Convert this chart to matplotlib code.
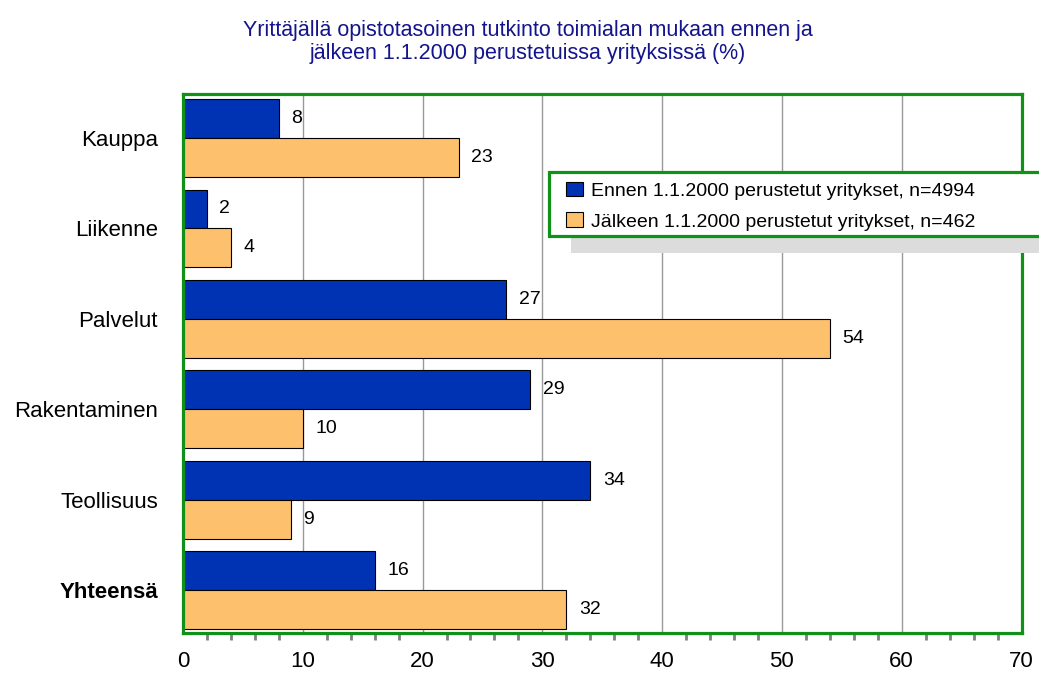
import numpy as np
import matplotlib.pyplot as plt
from matplotlib.patches import Rectangle
from matplotlib.ticker import MultipleLocator

plt.rcParams['font.family'] = ['Liberation Sans', 'DejaVu Sans']

# Data
categories = ['Kauppa', 'Liikenne', 'Palvelut', 'Rakentaminen', 'Teollisuus', 'Yhteensä']
ennen = [8, 2, 27, 29, 34, 16]
jalkeen = [23, 4, 54, 10, 9, 32]
labels = ['Ennen 1.1.2000 perustetut yritykset, n=4994',
          'Jälkeen 1.1.2000 perustetut yritykset, n=462']
title = ('Yrittäjällä opistotasoinen tutkinto toimialan mukaan ennen ja\n'
         'jälkeen 1.1.2000 perustetuissa yrityksissä (%)')

blue = '#0033b3'
orange = '#fdc06d'
green = '#11901a'

W, H = 1039, 673
fig = plt.figure(figsize=(W / 100, H / 100), dpi=100)
ax = fig.add_axes([183 / W, 1 - 633 / H, (1021.5 - 183) / W, (633 - 94) / H])

y = np.arange(len(categories))
h = 0.43
b1 = ax.barh(y - h / 2, ennen, height=h, color=blue, edgecolor='black', linewidth=0.8,
             label=labels[0], zorder=3)
b2 = ax.barh(y + h / 2, jalkeen, height=h, color=orange, edgecolor='black', linewidth=0.8,
             label=labels[1], zorder=3)

for bars, vals in [(b1, ennen), (b2, jalkeen)]:
    for bar, v in zip(bars, vals):
        ax.annotate(str(v), (v, bar.get_y() + bar.get_height() / 2),
                    xytext=(9, 0), textcoords='offset points',
                    va='center', ha='left', fontsize=14)

ax.set_xlim(0, 70)
ax.set_ylim(5.475, -0.487)
ax.set_xticks(np.arange(0, 71, 10))
ax.xaxis.set_minor_locator(MultipleLocator(2))
ax.tick_params(axis='x', which='major', length=0, pad=13, labelsize=16)
ax.tick_params(axis='x', which='minor', length=5, width=2, color='#808080', direction='out')
ax.set_yticks(y)
ax.set_yticklabels(categories, fontsize=16)
ax.tick_params(axis='y', length=0, pad=18)
ax.get_yticklabels()[-1].set_fontweight('bold')

ax.grid(axis='x', color='#999999', linewidth=1, zorder=0)
ax.set_axisbelow(True)
for s in ax.spines.values():
    s.set_color(green)
    s.set_linewidth(2.3)
    s.set_zorder(5)

fig.text(528 / W, 1 - 42 / H, title, ha='center', va='center', fontsize=15.5,
         color='#14148c', linespacing=1.1)

# legend box with shadow, running past the right edge
x0, y0, x1, y1 = 549, 172, 1060, 236
fig.patches.append(Rectangle((571 / W, 1 - 253 / H), (x1 - x0) / W, (y1 - y0) / H,
                             transform=fig.transFigure, facecolor='#dcdcdc',
                             edgecolor='none', zorder=6))
fig.patches.append(Rectangle((x0 / W, 1 - y1 / H), (x1 - x0) / W, (y1 - y0) / H,
                             transform=fig.transFigure, facecolor='white',
                             edgecolor=green, linewidth=2.3, zorder=7))
leg = fig.legend(handles=[b1, b2], loc='upper left', bbox_to_anchor=(550 / W, 1 - 166 / H),
                 frameon=False, fontsize=14, handlelength=0.9, handleheight=0.8,
                 handletextpad=0.4, labelspacing=0.65, borderpad=0.3)
leg.set_zorder(8)

fig.savefig('out.png', dpi=100)
